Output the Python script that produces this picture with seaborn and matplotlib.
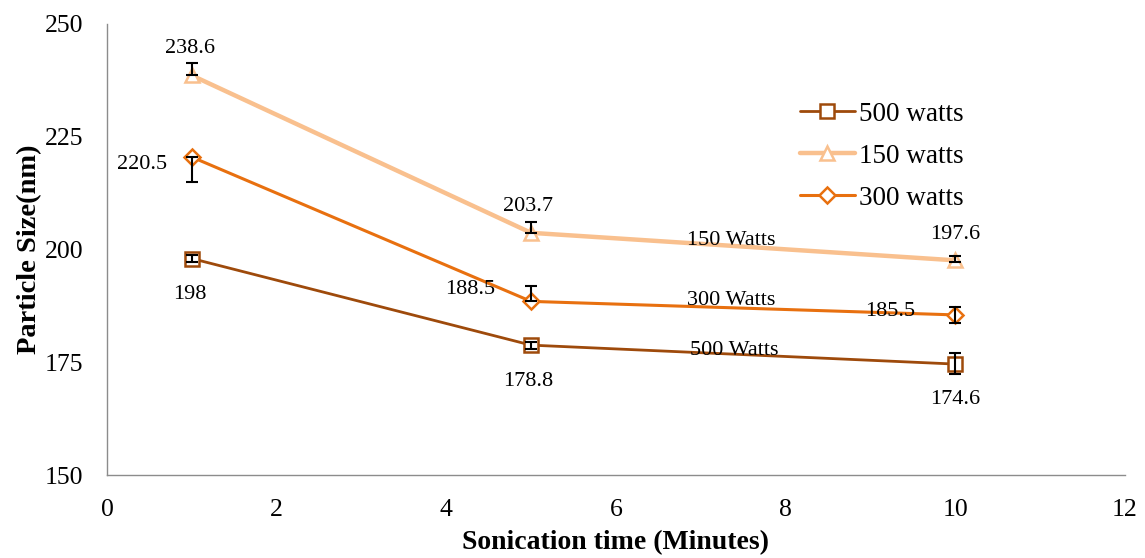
import numpy as np
import pandas as pd
import matplotlib
matplotlib.use("Agg")
import matplotlib.pyplot as plt
import seaborn as sns

time_min = [1, 5, 10]
series = ["500 watts", "150 watts", "300 watts"]
size_500 = [198.0, 178.8, 174.6]
size_150 = [238.6, 203.7, 197.6]
size_300 = [220.5, 188.5, 185.5]
err_lo_500 = [0.8, 0.8, 2.3]
err_hi_500 = [0.8, 0.8, 2.5]
err_lo_150 = [0.0, 0.0, 0.4]
err_hi_150 = [2.7, 2.5, 1.0]
err_lo_300 = [5.6, 0.0, 1.7]
err_hi_300 = [0.0, 3.3, 1.8]
line_labels = ["500 Watts", "150 Watts", "300 Watts"]

colors = {"500 watts": "#9E4A0B", "150 watts": "#F9C08E", "300 watts": "#E8700F"}
markers = {"500 watts": "s", "150 watts": "^", "300 watts": "D"}
widths = {"500 watts": 2.0, "150 watts": 3.2, "300 watts": 2.2}

vals = {"500 watts": size_500, "150 watts": size_150, "300 watts": size_300}
errs = {"500 watts": (err_lo_500, err_hi_500),
        "150 watts": (err_lo_150, err_hi_150),
        "300 watts": (err_lo_300, err_hi_300)}

df = pd.DataFrame({
    "time": time_min * 3,
    "size": size_500 + size_150 + size_300,
    "series": [s for s in series for _ in time_min],
})

sns.set_style("white")
plt.rcParams["font.family"] = ["Liberation Serif", "DejaVu Serif"]
plt.rcParams["text.color"] = "black"
plt.rcParams["axes.labelcolor"] = "black"
plt.rcParams["xtick.color"] = "black"
plt.rcParams["ytick.color"] = "black"

fig = plt.figure(figsize=(11.45, 5.58), dpi=100)
ax = fig.add_axes([0.0934, 0.1487, 0.889, 0.8083])

for s in series:
    sub = df[df.series == s]
    sns.lineplot(data=sub, x="time", y="size", ax=ax, color=colors[s],
                 lw=widths[s], marker=markers[s], markersize=10 if s != "300 watts" else 8,
                 markerfacecolor="white", markeredgecolor=colors[s], markeredgewidth=1.8,
                 label=s)

for s in series:
    lo, hi = errs[s]
    ax.errorbar(time_min, vals[s], yerr=[lo, hi], fmt="none", ecolor="black",
                elinewidth=1.5, capsize=4, capthick=1.5, zorder=5)

fs = 16
px = 0.72  # points per pixel
# data labels (offsets in pixels)
off_150 = [(-2, 27), (-3, 26), (0, 26)]
off_300 = [(-50, -7), (-61, 12), (-65, 3)]
off_500 = [(-2, -36), (-3, -36), (0, -35)]
for vals_s, offs in ((size_150, off_150), (size_300, off_300), (size_500, off_500)):
    for x, v, (dx, dy) in zip(time_min, vals_s, offs):
        ax.annotate(f"{v:g}", (x, v), xytext=(dx * px, dy * px), textcoords="offset points",
                    ha="center", va="center", fontsize=fs, color="black")

# line labels
ax.text(7.36, 202.1, line_labels[1], fontsize=fs, ha="center", va="center", color="black")
ax.text(7.36, 188.8, line_labels[2], fontsize=fs, ha="center", va="center", color="black")
ax.text(7.40, 177.7, line_labels[0], fontsize=fs, ha="center", va="center", color="black")

ax.set_xlim(0, 12)
ax.set_ylim(150, 250)
ax.set_xticks([0, 2, 4, 6, 8, 10, 12])
ax.set_yticks([150, 175, 200, 225, 250])
ax.tick_params(axis="both", labelsize=18.5, length=0, labelcolor="black")
ax.tick_params(axis="y", pad=17)
ax.tick_params(axis="x", pad=17.5)
for side in ["top", "right"]:
    ax.spines[side].set_visible(False)
for side in ["left", "bottom"]:
    ax.spines[side].set_color("#8c8c8c")
    ax.spines[side].set_linewidth(1.0)

ax.set_xlabel("Sonication time (Minutes)", fontsize=20, fontweight="bold", labelpad=6, color="black")
ax.set_ylabel("Particle Size(nm)", fontsize=20.5, fontweight="bold", labelpad=2, color="black")

leg = ax.legend(loc="upper left", bbox_to_anchor=(0.699, 0.818),
                bbox_transform=fig.transFigure, frameon=False, borderaxespad=0,
                borderpad=0, fontsize=19.5, handlelength=2.0, handletextpad=0.15,
                labelspacing=0.63, labelcolor="black")

fig.savefig("out.png", dpi=100)
